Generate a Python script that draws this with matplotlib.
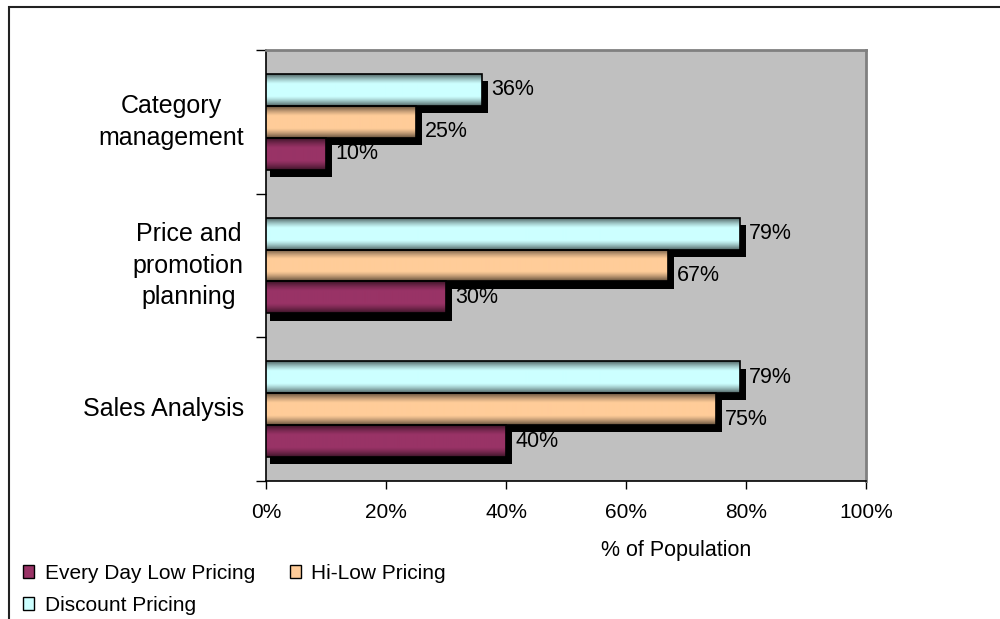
import numpy as np
import matplotlib
matplotlib.use('Agg')
import matplotlib.pyplot as plt
from matplotlib.patches import Patch, Rectangle
from matplotlib.ticker import FixedLocator, PercentFormatter
from matplotlib.transforms import blended_transform_factory

plt.rcParams['font.family'] = ['Liberation Sans', 'DejaVu Sans']

# data, bottom category first
categories = ['Sales Analysis', 'Price and\npromotion\nplanning', 'Category\nmanagement']
series_names = ['Every Day Low Pricing', 'Hi-Low Pricing', 'Discount Pricing']
edlp = [40, 30, 10]
hilow = [75, 67, 25]
discount = [79, 79, 36]
x_ticks = [0, 20, 40, 60, 80, 100]

series_values = [edlp, hilow, discount]
series_colors = ['#993366', '#FFCC99', '#CCFFFF']
offsets = [-0.222, 0.0, 0.222]
label_dy = [0.0, -0.07, 0.0]
bar_h = 0.222


def gradient_rgb(hex_color, n=64):
    base = np.array(matplotlib.colors.to_rgb(hex_color))
    t = np.linspace(0, 1, n)
    f = 0.38 + 0.62 * np.clip(np.sin(np.pi * t) * 1.25, 0, 1) ** 0.9
    return (f[:, None] * base[None, :])[:, None, :]


fig = plt.figure(figsize=(10, 6.19), dpi=100)
ax = fig.add_axes([0.266, 0.2229, 0.6, 0.6963])
ax.set_facecolor('#C0C0C0')

y = np.arange(len(categories))

# shadows first
for vals, off in zip(series_values, offsets):
    for yi, v in zip(y, vals):
        ax.add_patch(Rectangle((0.7, yi + off - bar_h / 2 - 0.05), v + 0.3, bar_h,
                               facecolor='black', edgecolor='none', zorder=2))

# bars with shading
for vals, off, col, dy in zip(series_values, offsets, series_colors, label_dy):
    grad = gradient_rgb(col)
    for yi, v in zip(y, vals):
        y0 = yi + off - bar_h / 2
        ax.imshow(grad, extent=(0, v, y0, y0 + bar_h), aspect='auto',
                  origin='lower', zorder=3, interpolation='bilinear')
        ax.add_patch(Rectangle((0, y0), v, bar_h, facecolor='none',
                               edgecolor='black', linewidth=1.2, zorder=4))
        ax.text(v + 1.5, yi + off + dy, '%d%%' % v, fontsize=15.5,
                ha='left', va='center', zorder=5)

ax.set_xlim(0, 100)
ax.set_ylim(-0.5, 2.5)

ax.xaxis.set_major_locator(FixedLocator(x_ticks))
ax.xaxis.set_major_formatter(PercentFormatter(decimals=0))
ax.yaxis.set_major_locator(FixedLocator([-0.5, 0.5, 1.5, 2.5]))
ax.yaxis.set_major_formatter(plt.NullFormatter())

# category labels, centred multi-line blocks left of the axis
trans = blended_transform_factory(ax.transAxes, ax.transData)
for yi, cat in zip(y, categories):
    ax.text(-0.037, yi, cat, transform=trans, ha='right', va='center',
            multialignment='center', linespacing=1.4, fontsize=18)

ax.tick_params(axis='x', which='major', length=6, width=1, labelsize=15, pad=10)
ax.tick_params(axis='y', which='major', length=7, width=1)

for side in ['left', 'bottom']:
    ax.spines[side].set_color('black')
    ax.spines[side].set_linewidth(1.2)
for side in ['top', 'right']:
    ax.spines[side].set_color('#808080')
    ax.spines[side].set_linewidth(2)

ax.set_xlabel('% of Population', fontsize=15.5)
ax.xaxis.set_label_coords(0.683, -0.137)

# outer chart border
fig.add_artist(Rectangle((0.009, -0.1), 1.2, 1.1 - 0.011, transform=fig.transFigure,
                         facecolor='none', edgecolor='#222222', linewidth=1.5))

handles = [Patch(facecolor=c, edgecolor='black', linewidth=1) for c in series_colors]
order = [0, 2, 1]
fig.legend([handles[i] for i in order], [series_names[i] for i in order],
           loc='upper left', bbox_to_anchor=(0.023, 1 - 564 / 619), ncol=2,
           frameon=False, fontsize=15, handlelength=0.55, handleheight=0.55,
           handletextpad=0.5, columnspacing=1.65, labelspacing=0.62,
           borderpad=0, borderaxespad=0)

fig.savefig('out.png', dpi=100)
